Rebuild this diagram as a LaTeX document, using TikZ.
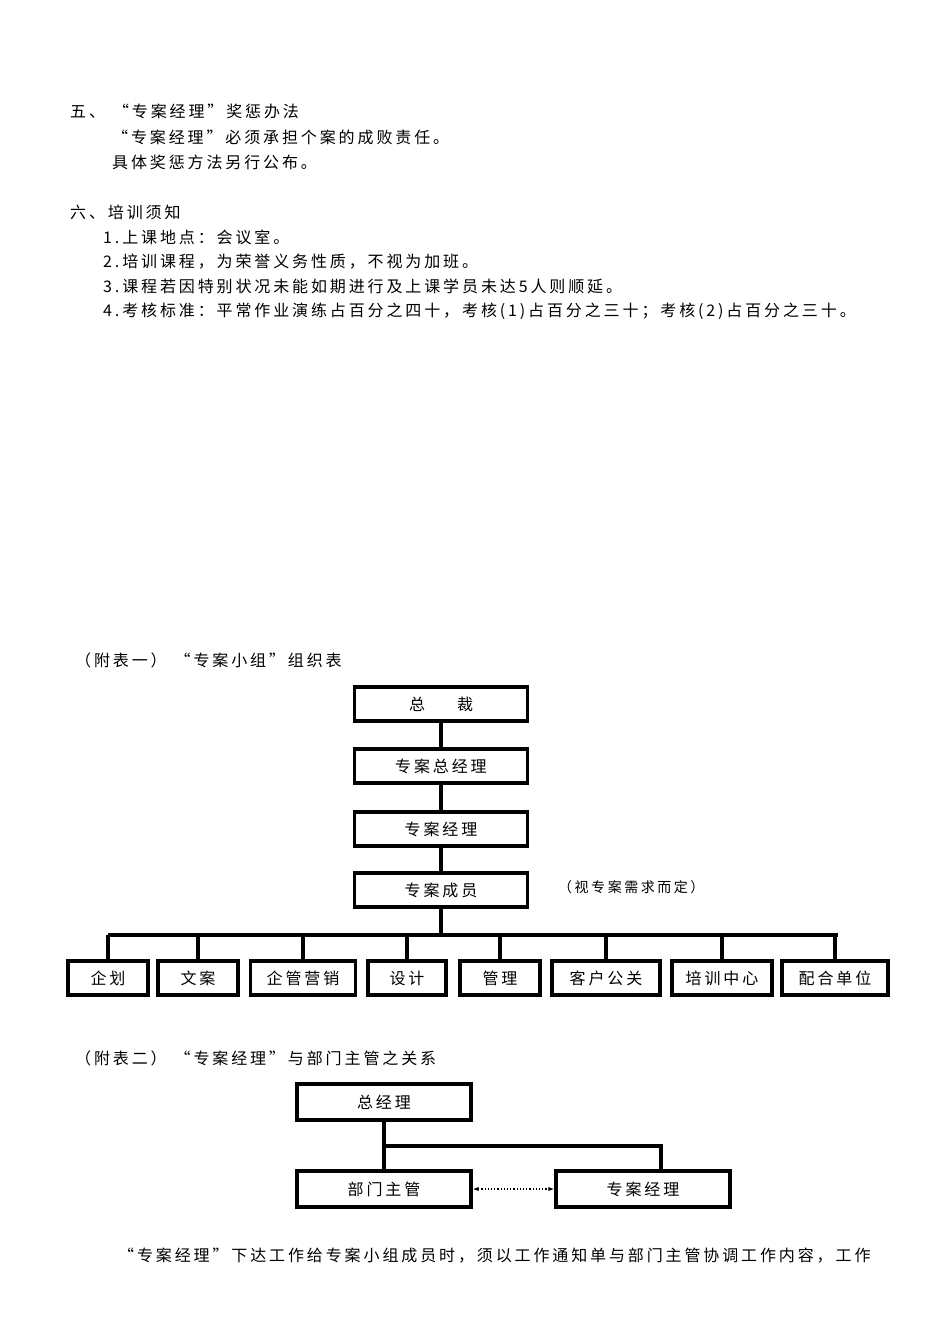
\documentclass[tikz,border=0pt]{standalone}
\usepackage{fontspec}
\setmainfont{Noto Sans CJK SC}[LetterSpace=18]
\usetikzlibrary{arrows.meta}
\begin{document}
\begin{tikzpicture}[x=1pt,y=-1pt,
  txt/.style={anchor=west,inner sep=0,font=\fontsize{16}{16}\selectfont},
  bx/.style={draw,line width=3.4pt,minimum height=34pt,inner sep=0,font=\fontsize{16}{16}\selectfont},
  ln/.style={line width=3.4pt}]
\useasboundingbox[fill=white] (0,0) rectangle (950,1344);
\node[txt] (t1) at (70,111) {五、\enspace“专案经理”奖惩办法};
\node[txt] (t2) at (112,137) {“专案经理”必须承担个案的成败责任。};
\node[txt] (t3) at (112,162) {具体奖惩方法另行公布。};
\node[txt] (t4) at (70,212) {六、培训须知};
\node[txt] (t5) at (103,237) {1.上课地点：会议室。};
\node[txt] (t6) at (103,262) {2.培训课程，为荣誉义务性质，不视为加班。};
\node[txt] (t7) at (103,286) {3.课程若因特别状况未能如期进行及上课学员未达5人则顺延。};
\node[txt] (t8) at (103,311) {4.考核标准：平常作业演练占百分之四十，考核(1)占百分之三十；考核(2)占百分之三十。};
\node[txt] (c1) at (75,660) {（附表一）\enspace“专案小组”组织表};
\node[bx,minimum width=173pt] (a) at (441,704) {总\qquad 裁};
\node[bx,minimum width=173pt] (b) at (441,766) {专案总经理};
\node[bx,minimum width=173pt] (c) at (441,829) {专案经理};
\node[bx,minimum width=173pt] (d) at (441,890) {专案成员};
\node[txt,font=\fontsize{14}{14}\selectfont] (note) at (558,887) {（视专案需求而定）};
\draw[ln] (a)--(b); \draw[ln] (b)--(c); \draw[ln] (c)--(d);
\coordinate (bar) at (441,935);
\draw[ln] (d)--(bar);
\draw[ln] (108,935)--(838,935);
\foreach \n/\x/\w/\t in {e1/108/80/企划,e2/198/80/文案,e3/303/105/企管营销,e4/407/78/设计,e5/500/80/管理,e6/606/108/客户公关,e7/722/100/培训中心,e8/835/106/配合单位}{
  \node[bx,minimum width=\w pt] (\n) at (\x,978) {\t};
  \draw[ln] (\x,935)--(\n.north);
}
\node[txt] (c2) at (75,1058) {（附表二）\enspace“专案经理”与部门主管之关系};
\node[bx,minimum width=174pt,minimum height=36pt] (g) at (384,1102) {总经理};
\node[bx,minimum width=174pt,minimum height=36pt] (h) at (384,1189) {部门主管};
\node[bx,minimum width=174pt,minimum height=36pt] (p) at (643,1189) {专案经理};
\draw[ln] (g)--(h);
\draw[ln] (384,1146) -| (p.north -| 661,0);
\draw[line width=1.2pt,dotted,{Latex[length=6pt]}-{Latex[length=6pt]}] (h.east)--(p.west);
\node[txt] (t9) at (118,1256) {“专案经理”下达工作给专案小组成员时，须以工作通知单与部门主管协调工作内容，工作};
\end{tikzpicture}
\end{document}
